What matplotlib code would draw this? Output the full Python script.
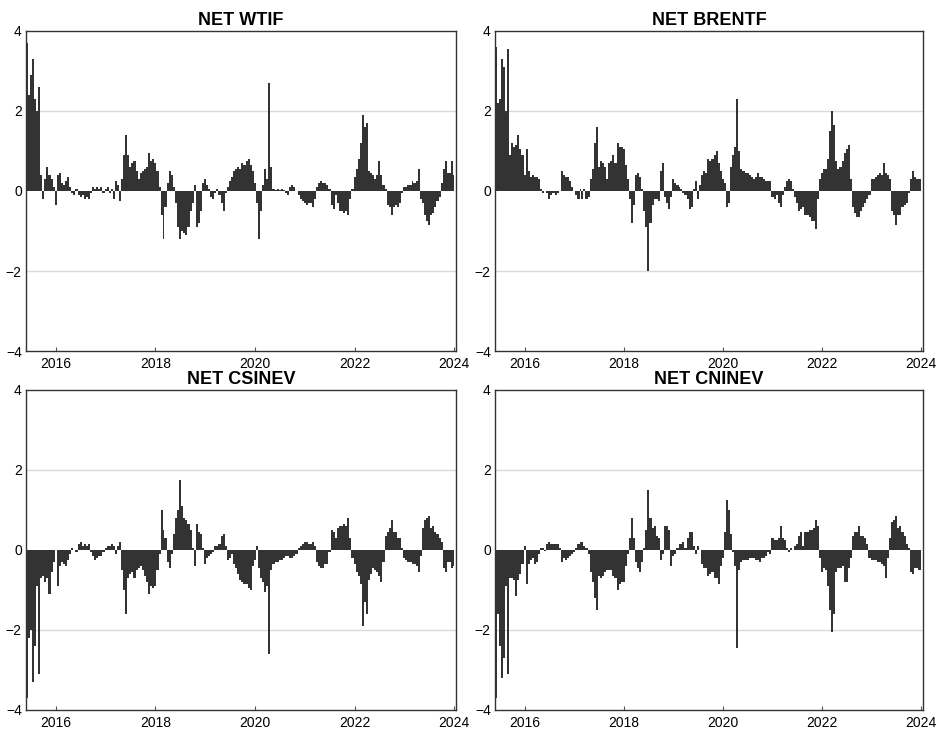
import matplotlib.pyplot as plt
import pandas as pd

plt.rcParams['font.family'] = ['Liberation Sans', 'DejaVu Sans']

# semi-monthly net positioning, first and fifteenth of each month
DATES = pd.date_range("2015-06-01", "2024-01-01", freq="SMS")

NET_WTIF = [
    3.7, 2.4, 2.9, 3.3, 2.3, 2.0, 2.6, 0.4, -0.2, 0.3,
    0.6, 0.4, 0.3, 0.1, -0.35, 0.4, 0.45, 0.2, 0.15, 0.25,
    0.35, 0.1, -0.05, -0.1, 0.05, -0.1, -0.15, -0.1, -0.2, -0.15,
    -0.2, -0.05, 0.1, 0.05, 0.1, 0.05, 0.1, -0.05, 0.05, 0.1,
    -0.05, 0.05, -0.2, 0.25, 0.15, -0.25, 0.3, 0.9, 1.4, 0.9,
    0.6, 0.7, 0.75, 0.5, 0.3, 0.45, 0.5, 0.55, 0.6, 0.95,
    0.75, 0.8, 0.7, 0.5, 0.1, -0.6, -1.2, -0.4, 0.2, 0.5,
    0.4, 0.1, -0.3, -0.9, -1.2, -1.0, -1.05, -1.1, -0.9, -0.5,
    -0.3, 0.15, -0.9, -0.8, -0.5, 0.2, 0.3, 0.15, 0.05, -0.15,
    -0.2, -0.05, 0.05, -0.1, -0.3, -0.5, -0.05, 0.1, 0.25, 0.35,
    0.5, 0.55, 0.6, 0.55, 0.7, 0.65, 0.75, 0.8, 0.65, 0.5,
    0.2, -0.3, -1.2, -0.5, 0.15, 0.55, 0.3, 2.7, 0.6, 0.05,
    0.03, 0.05, 0.03, 0.05, 0.02, -0.05, -0.1, 0.1, 0.15, 0.1,
    0.0, -0.1, -0.2, -0.25, -0.3, -0.35, -0.3, -0.3, -0.4, -0.2,
    0.1, 0.2, 0.25, 0.2, 0.2, 0.15, 0.05, -0.35, -0.45, -0.1,
    -0.3, -0.5, -0.5, -0.55, -0.5, -0.6, -0.2, 0.05, 0.35, 0.55,
    0.8, 1.2, 1.9, 1.6, 1.7, 0.5, 0.45, 0.4, 0.3, 0.4,
    0.75, 0.4, 0.15, 0.05, -0.35, -0.4, -0.6, -0.4, -0.35, -0.4,
    -0.3, -0.05, 0.1, 0.1, 0.15, 0.15, 0.25, 0.2, 0.25, 0.55,
    -0.2, -0.3, -0.6, -0.75, -0.85, -0.6, -0.55, -0.4, -0.25, -0.15,
    0.2, 0.55, 0.75, 0.45, 0.45, 0.75, 0.4,
]

NET_BRENTF = [
    3.6, 2.2, 2.3, 3.3, 3.1, 2.0, 3.55, 0.9, 1.2, 1.1,
    1.15, 1.4, 1.05, 0.9, 0.4, 1.05, 0.5, 0.35, 0.4, 0.35,
    0.35, 0.3, 0.05, -0.05, 0.0, -0.05, -0.2, -0.1, -0.05, -0.1,
    -0.05, 0.0, 0.5, 0.4, 0.35, 0.35, 0.25, 0.1, 0.0, -0.1,
    -0.2, 0.05, -0.2, 0.05, -0.2, -0.15, 0.3, 0.55, 1.2, 1.6,
    0.6, 0.75, 0.7, 0.6, 0.3, 0.7, 0.75, 0.9, 0.7, 1.2,
    1.1, 1.1, 1.05, 0.65, 0.3, -0.2, -0.8, -0.35, 0.4, 0.45,
    0.35, 0.05, -0.5, -0.9, -2.0, -0.8, -0.35, -0.2, -0.2, -0.25,
    0.5, 0.7, -0.15, -0.3, -0.45, -0.15, 0.3, 0.2, 0.15, 0.1,
    0.05, -0.05, -0.1, -0.2, -0.45, -0.4, 0.05, 0.25, -0.2, 0.15,
    0.4, 0.5, 0.45, 0.8, 0.75, 0.8, 0.9, 1.0, 0.7, 0.5,
    0.3, 0.2, -0.4, -0.3, 0.6, 0.9, 1.1, 2.3, 1.0, 0.55,
    0.5, 0.45, 0.45, 0.4, 0.35, 0.3, 0.35, 0.45, 0.35, 0.35,
    0.3, 0.25, 0.25, 0.25, -0.15, -0.2, -0.1, -0.3, -0.4, -0.1,
    0.1, 0.25, 0.3, 0.25, 0.05, -0.15, -0.3, -0.5, -0.45, -0.4,
    -0.6, -0.6, -0.65, -0.75, -0.75, -0.95, -0.2, 0.3, 0.45, 0.55,
    0.55, 0.8, 1.5, 2.0, 1.65, 0.75, 0.55, 0.6, 0.75, 0.95,
    1.05, 1.15, 0.3, -0.4, -0.55, -0.65, -0.65, -0.5, -0.4, -0.3,
    -0.2, -0.1, 0.3, 0.3, 0.35, 0.4, 0.45, 0.4, 0.7, 0.45,
    0.4, 0.3, -0.5, -0.6, -0.85, -0.6, -0.6, -0.4, -0.35, -0.3,
    -0.05, 0.3, 0.5, 0.35, 0.3, 0.3, 0.3,
]

NET_CSINEV = [
    -3.7, -2.2, -2.0, -3.3, -2.4, -0.9, -3.1, -0.7, -0.65, -0.8,
    -0.7, -1.1, -0.55, -0.3, 0.0, -0.9, -0.4, -0.3, -0.35, -0.4,
    -0.25, -0.1, 0.05, 0.0, -0.05, 0.15, 0.2, 0.1, 0.15, 0.1,
    0.15, -0.05, -0.15, -0.25, -0.2, -0.15, -0.15, -0.05, 0.05, 0.1,
    0.1, 0.15, 0.1, -0.1, 0.1, 0.2, -0.5, -1.0, -1.6, -0.7,
    -0.6, -0.55, -0.7, -0.5, -0.45, -0.4, -0.5, -0.65, -0.8, -1.1,
    -0.9, -0.95, -0.9, -0.5, -0.1, 1.0, 0.5, 0.3, -0.3, -0.45,
    -0.1, 0.4, 0.8, 1.0, 1.75, 1.1, 0.8, 0.75, 0.65, 0.5,
    0.05, -0.4, 0.65, 0.45, 0.4, 0.05, -0.35, -0.2, -0.15, -0.1,
    -0.05, 0.1, 0.1, 0.15, 0.35, 0.4, 0.1, -0.25, -0.2, -0.1,
    -0.35, -0.45, -0.6, -0.75, -0.8, -0.85, -0.85, -0.95, -1.0, -0.4,
    -0.25, 0.1, -0.45, -0.7, -0.8, -1.05, -0.9, -2.6, -0.5, -0.35,
    -0.3, -0.3, -0.25, -0.25, -0.2, -0.15, -0.15, -0.2, -0.2, -0.15,
    -0.1, 0.05, 0.1, 0.15, 0.2, 0.2, 0.15, 0.15, 0.2, 0.1,
    -0.3, -0.4, -0.45, -0.45, -0.35, -0.35, -0.05, 0.5, 0.45, 0.3,
    0.55, 0.6, 0.6, 0.65, 0.6, 0.8, 0.3, -0.2, -0.35, -0.55,
    -0.65, -0.85, -1.9, -1.3, -1.6, -0.75, -0.6, -0.45, -0.5, -0.55,
    -0.65, -0.8, -0.3, 0.35, 0.45, 0.55, 0.75, 0.45, 0.45, 0.3,
    0.3, 0.05, -0.2, -0.25, -0.3, -0.3, -0.35, -0.35, -0.4, -0.55,
    -0.15, 0.55, 0.75, 0.8, 0.85, 0.55, 0.6, 0.45, 0.4, 0.3,
    0.2, -0.45, -0.55, -0.3, -0.3, -0.45, -0.4,
]

NET_CNINEV = [
    -3.7, -1.6, -2.4, -3.2, -2.7, -0.9, -3.1, -0.7, -0.7, -0.75,
    -1.15, -0.75, -0.6, -0.35, 0.1, -0.85, -0.35, -0.25, -0.2, -0.35,
    -0.3, -0.1, 0.05, 0.05, -0.02, 0.15, 0.2, 0.15, 0.15, 0.15,
    0.15, 0.05, -0.3, -0.2, -0.25, -0.2, -0.15, -0.1, -0.05, 0.05,
    0.15, 0.2, 0.2, 0.1, 0.05, -0.1, -0.55, -0.8, -1.2, -1.5,
    -0.65, -0.7, -0.65, -0.55, -0.5, -0.5, -0.5, -0.65, -0.7, -1.0,
    -0.85, -0.8, -0.8, -0.4, -0.1, 0.3, 0.8, 0.3, -0.3, -0.45,
    -0.55, -0.3, 0.05, 0.5, 1.5, 0.8, 0.55, 0.6, 0.35, 0.3,
    -0.25, -0.1, 0.6, 0.6, 0.5, -0.4, -0.15, -0.1, 0.05, 0.15,
    0.15, 0.2, 0.05, 0.3, 0.45, 0.45, 0.1, -0.1, 0.1, 0.0,
    -0.35, -0.45, -0.45, -0.65, -0.6, -0.55, -0.7, -0.7, -0.85, -0.4,
    -0.2, 0.45, 1.25, 1.0, 0.4, -0.05, -0.4, -2.45, -0.5, -0.3,
    -0.25, -0.25, -0.25, -0.2, -0.2, -0.2, -0.25, -0.25, -0.3, -0.2,
    -0.2, -0.15, -0.05, -0.1, 0.3, 0.25, 0.25, 0.3, 0.6, 0.3,
    0.25, 0.05, -0.05, 0.05, 0.0, 0.1, 0.15, 0.35, 0.45, 0.1,
    0.45, 0.45, 0.5, 0.5, 0.55, 0.75, 0.6, -0.2, -0.55, -0.45,
    -0.5, -0.9, -1.5, -2.05, -1.6, -0.55, -0.45, -0.45, -0.4, -0.8,
    -0.8, -0.45, -0.2, 0.35, 0.45, 0.45, 0.6, 0.35, 0.35, 0.3,
    0.15, -0.2, -0.25, -0.25, -0.25, -0.3, -0.3, -0.35, -0.4, -0.7,
    -0.2, 0.3, 0.7, 0.75, 0.85, 0.55, 0.6, 0.45, 0.35, 0.15,
    0.05, -0.55, -0.6, -0.45, -0.45, -0.5, -0.5,
]

PANELS = [
    ("NET WTIF", NET_WTIF),
    ("NET BRENTF", NET_BRENTF),
    ("NET CSINEV", NET_CSINEV),
    ("NET CNINEV", NET_CNINEV),
]

YEARS = [2016, 2018, 2020, 2022, 2024]

# axes rectangles in figure fractions: left, bottom, width, height
BOXES = [
    (0.0277, 0.5185, 0.4584, 0.4390),
    (0.5277, 0.5185, 0.4563, 0.4390),
    (0.0277, 0.0261, 0.4584, 0.4390),
    (0.5277, 0.0261, 0.4563, 0.4390),
]

BAR_COLOR = "#333333"


def draw_panel(ax, title, values):
    # stepped fill so neighbouring periods touch with no white gaps
    ax.fill_between(DATES, values, 0, step="mid", color=BAR_COLOR,
                    linewidth=0)

    ax.set_xlim(pd.Timestamp("2015-05-27"), pd.Timestamp("2024-01-14"))
    ax.set_ylim(-4, 4)
    ax.set_yticks([-4, -2, 0, 2, 4])
    ax.set_xticks([pd.Timestamp(f"{y}-01-01") for y in YEARS])
    ax.set_xticklabels([str(y) for y in YEARS])

    for y in (-2, 2):
        ax.axhline(y, color="#d9d9d9", linewidth=1.0, zorder=0)

    ax.tick_params(axis="x", direction="in", length=3, width=0.8,
                   labelsize=10, pad=4, color="#555555")
    ax.tick_params(axis="y", length=0, labelsize=10, pad=3)
    for spine in ax.spines.values():
        spine.set_color("#333333")
        spine.set_linewidth(1.0)

    ax.set_title(title, fontsize=13, fontweight="bold", pad=4)


fig = plt.figure(figsize=(9.38, 7.29), dpi=100)

for box, (title, values) in zip(BOXES, PANELS):
    ax = fig.add_axes(box)
    draw_panel(ax, title, values)

fig.savefig("out.png", dpi=100)
